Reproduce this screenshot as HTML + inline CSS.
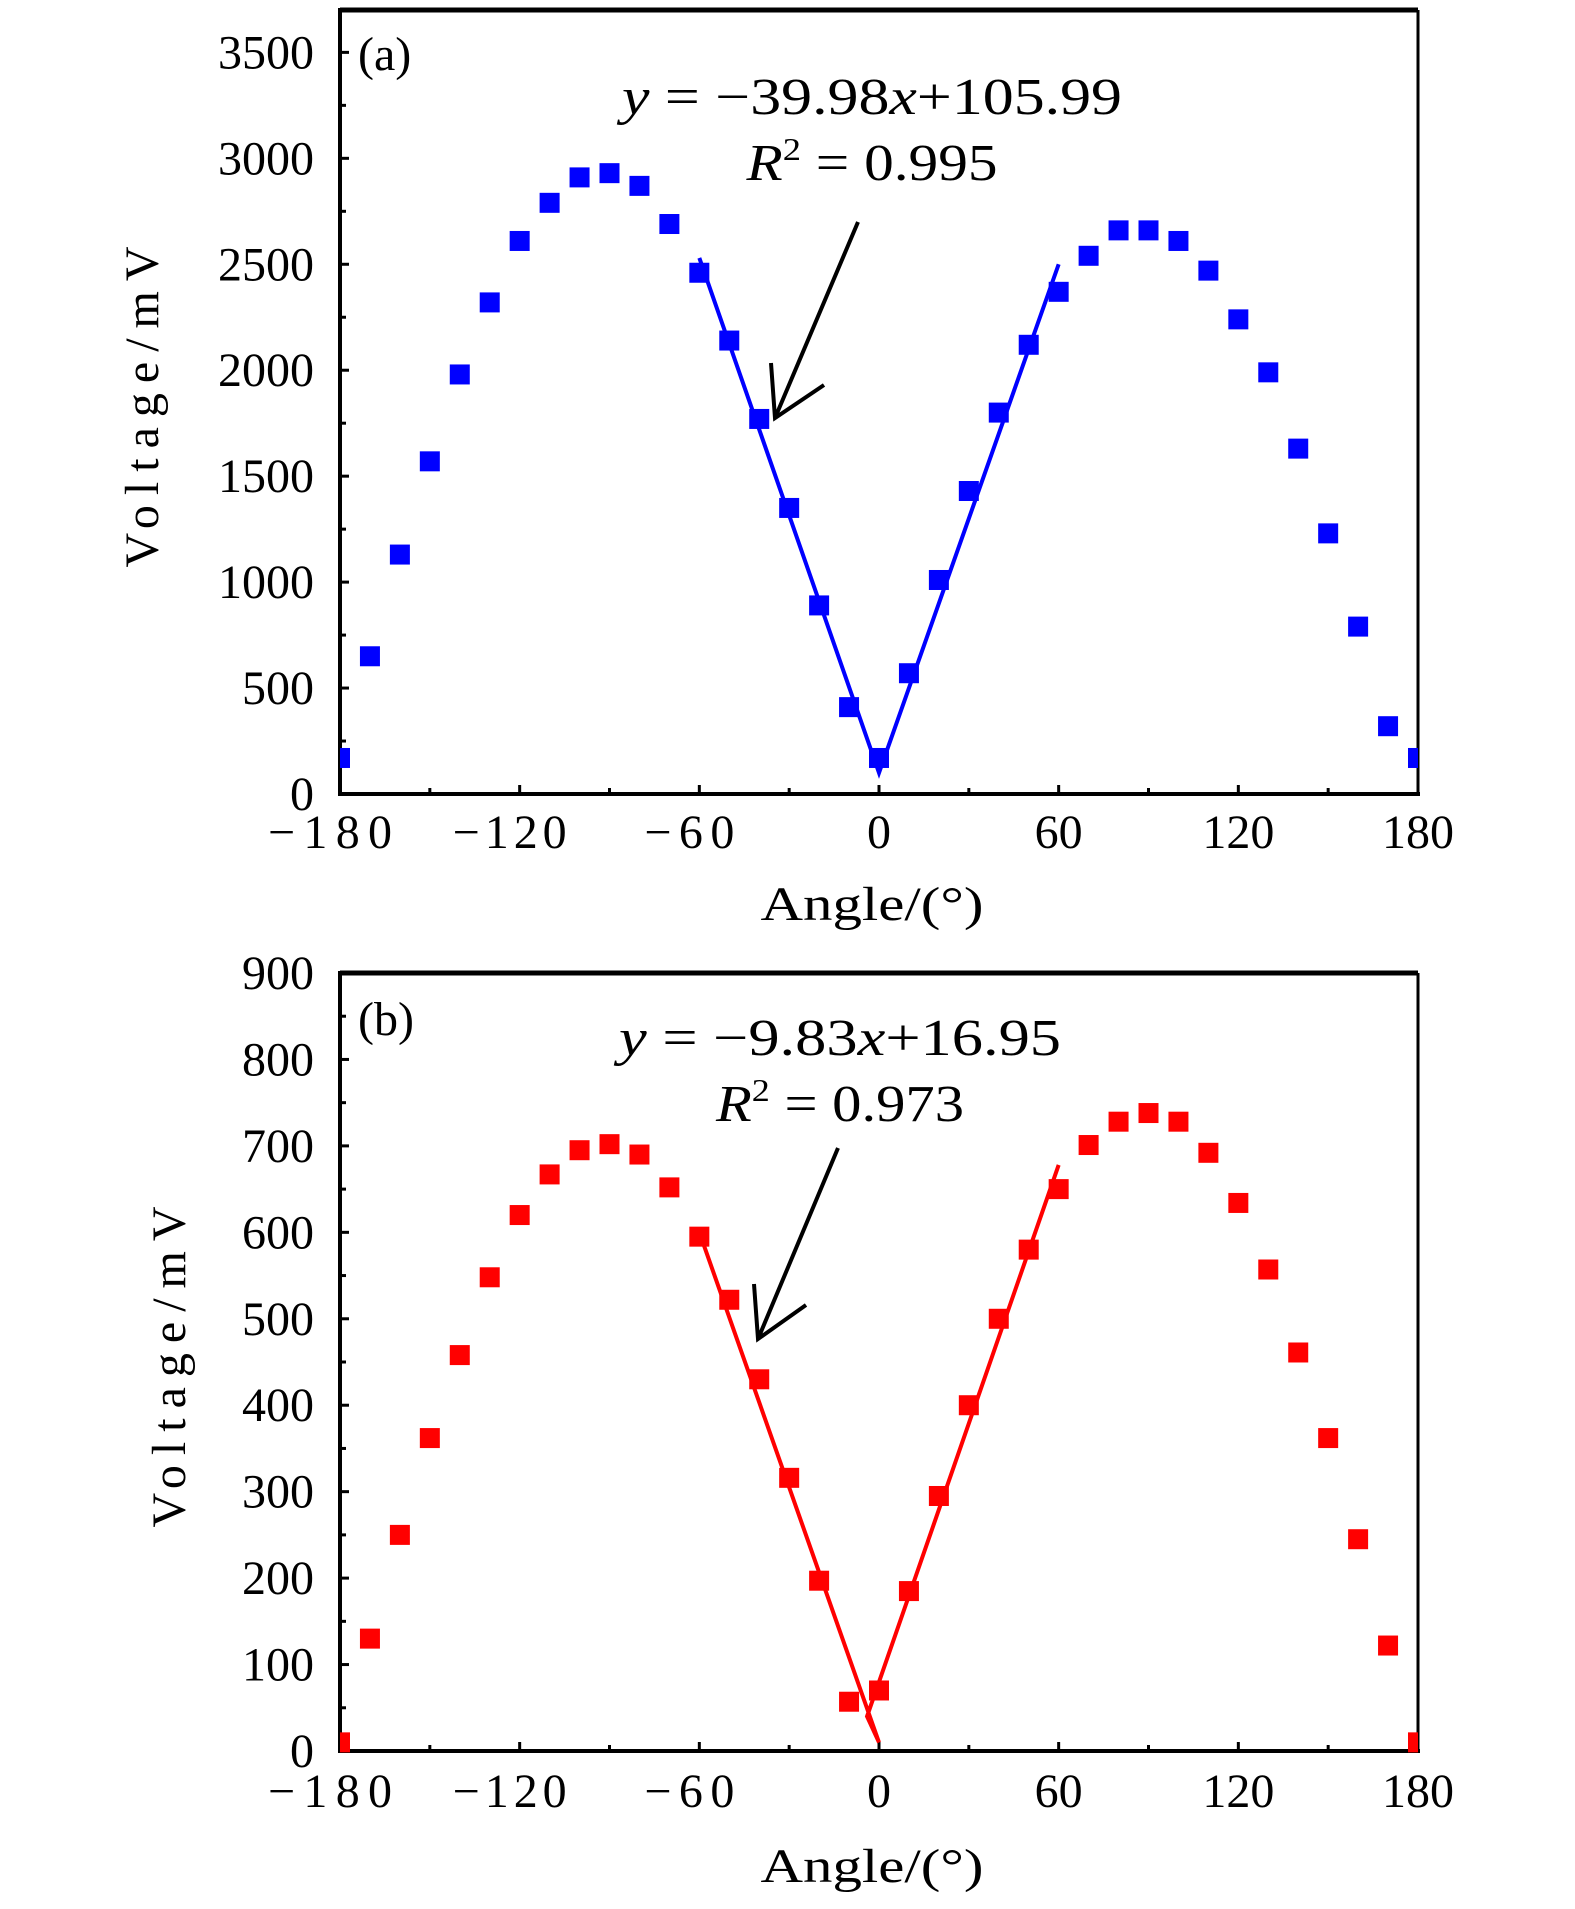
<!DOCTYPE html>
<html><head><meta charset="utf-8"><style>
html,body{margin:0;padding:0;background:#fff}
svg{display:block}
text{font-family:"Liberation Serif",serif;fill:#000}
</style></head><body>
<svg id="fig" width="1575" height="1909" viewBox="0 0 1575 1909" xmlns="http://www.w3.org/2000/svg">
<g id="pa"></g>
<g id="pb"></g>
</svg>
<script>
const angles = [-180,-170,-160,-150,-140,-130,-120,-110,-100,-90,-80,-70,-60,-50,-40,-30,-20,-10,0,10,20,30,40,50,60,70,80,90,100,110,120,130,140,150,160,170,180];
const voltageA = [170,650,1130,1570,1980,2320,2610,2790,2910,2930,2870,2690,2460,2140,1770,1350,890,410,170,570,1010,1430,1800,2120,2370,2540,2660,2660,2610,2470,2240,1990,1630,1230,790,320,170];
const voltageB = [10,130,250,362,458,548,620,667,695,702,690,652,595,522,430,316,197,57,70,185,295,400,500,580,650,701,728,738,728,692,634,557,461,362,245,122,10];
const fitAx = [-60,0,60];
const fitAy = [2530,100,2500];
const fitBx = [-60,0,-4,60];
const fitBy = [600,10,40,678];
const xTicks = [-180,-120,-60,0,60,120,180];
const yTicksA = [0,500,1000,1500,2000,2500,3000,3500];
const yTicksB = [0,100,200,300,400,500,600,700,800,900];

const NS="http://www.w3.org/2000/svg";
function mk(p,t,a,txt){const e=document.createElementNS(NS,t);for(const k in a)e.setAttribute(k,a[k]);if(txt!==undefined)e.textContent=txt;p.appendChild(e);return e;}

function panel(g,cfg){
  const L=340,R=1418,T=cfg.top,B=cfg.bottom;
  const xs=v=>L+(v+180)/360*(R-L);
  const ys=v=>B-(v-cfg.ymin)/(cfg.ymax-cfg.ymin)*(B-T);
  let e;
  e=mk(g,'line',{x1:L,y1:T,x2:R,y2:T,stroke:'#000','stroke-width':5});
  
  e=mk(g,'line',{x1:R,y1:T,x2:R,y2:B,stroke:'#000','stroke-width':3});
  
  e=mk(g,'line',{x1:L,y1:T-2,x2:L,y2:B+2,stroke:'#000','stroke-width':4});
  
  e=mk(g,'line',{x1:L-2,y1:B,x2:R+2,y2:B,stroke:'#000','stroke-width':4});
  
  for(let v=-180;v<=180;v+=30){
    const major=v%60===0;
    e=mk(g,'line',{x1:xs(v),y1:B,x2:xs(v),y2:B-(major?9:6),stroke:'#000','stroke-width':3});
    
  }
  xTicks.forEach(v=>{
    const s=(v<0?'\u2212':'')+Math.abs(v);
    const a={x:xs(v)-(v<0?10:0),y:cfg.xlabY,'font-size':48,'text-anchor':'middle'};
    if(v<0){a.textLength=v===-60?90:(v===-120?114:124);a.lengthAdjust='spacing';}
    e=mk(g,'text',a,s);
    
  });
  const yt=cfg.yticks, step=yt[1]-yt[0];
  for(let v=cfg.ymin;v<=cfg.ymax+1e-9;v+=step/2){
    const major=Math.abs((v/step)-Math.round(v/step))<1e-6;
    e=mk(g,'line',{x1:L,y1:ys(v),x2:L+(major?9:6),y2:ys(v),stroke:'#000','stroke-width':3});
    
  }
  yt.forEach(v=>{
    e=mk(g,'text',{x:314,y:ys(v)+16,'font-size':48,'text-anchor':'end'},v);
    
  });
  e=mk(g,'text',{x:0,y:0,'font-size':48,'text-anchor':'middle','letter-spacing':'10',transform:`translate(${cfg.ytX},${(T+B)/2+cfg.ytDy}) rotate(-90)`},'Voltage/mV');
  
  e=mk(g,'text',{x:872,y:cfg.xtY,'font-size':48,'text-anchor':'middle',textLength:223,lengthAdjust:'spacingAndGlyphs'},'Angle/(\u00b0)');
  
  e=mk(g,'text',{x:358,y:cfg.lblY,'font-size':48},cfg.label);
  
  e=mk(g,'text',{x:cfg.eqX,y:cfg.eqY,'font-size':52,'text-anchor':'middle',textLength:cfg.eqW,lengthAdjust:'spacingAndGlyphs'});
  
  mk(e,'tspan',{'font-style':'italic'},'y');
  mk(e,'tspan',{},' = \u2212'+cfg.slope);
  mk(e,'tspan',{'font-style':'italic'},'x');
  mk(e,'tspan',{},'+'+cfg.icpt);
  e=mk(g,'text',{x:cfg.eqX,y:cfg.eqY+66,'font-size':52,'text-anchor':'middle',textLength:cfg.r2W,lengthAdjust:'spacingAndGlyphs'});
  
  mk(e,'tspan',{'font-style':'italic'},'R');
  mk(e,'tspan',{'font-size':32,dy:-20},'2');
  mk(e,'tspan',{dy:20},' = '+cfg.r2);
  const a=cfg.arrow;
  e=mk(g,'path',{d:`M${a[0]},${a[1]} L${a[2]},${a[3]} M${a[4]},${a[5]} L${a[2]},${a[3]} L${a[6]},${a[7]}`,stroke:'#000','stroke-width':4,fill:'none'});
  
  const pts=cfg.fx.map((x,i)=>xs(x)+','+ys(cfg.fy[i])).join(' ');
  e=mk(g,'polyline',{points:pts,stroke:cfg.color,'stroke-width':4,fill:'none'});
  
  angles.forEach((x,i)=>{
    let px=xs(x)-10,w=20;
    if(x===-180){px=L;w=10;} if(x===180){px=R-10;w=10;}
    e=mk(g,'rect',{x:px,y:ys(cfg.vals[i])-10,width:w,height:20,fill:cfg.color});
    
  });
}
panel(document.getElementById('pa'),{top:10,bottom:794,ymin:0,ymax:3700,yticks:yTicksA,vals:voltageA,fx:fitAx,fy:fitAy,color:'#0000ff',
  xlabY:848,xtY:920,lblY:70,label:'(a)',ytX:158,ytDy:0,eqX:872,eqY:114,eqW:500,r2W:251,slope:'39.98',icpt:'105.99',r2:'0.995',
  arrow:[858,222,775,418,771,363,824,385]});
panel(document.getElementById('pb'),{top:973,bottom:1751,ymin:0,ymax:900,yticks:yTicksB,vals:voltageB,fx:fitBx,fy:fitBy,color:'#ff0000',
  xlabY:1807,xtY:1882,lblY:1035,label:'(b)',ytX:185,ytDy:0,eqX:840,eqY:1055,eqW:442,r2W:248,slope:'9.83',icpt:'16.95',r2:'0.973',
  arrow:[838,1148,758,1339,754,1284,806,1305]});
</script>
</body></html>
